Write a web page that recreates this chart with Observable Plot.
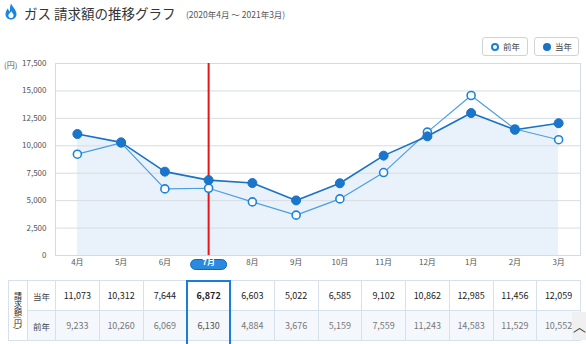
<!DOCTYPE html>
<html><head><meta charset="utf-8">
<script src="https://cdn.jsdelivr.net/npm/d3@7"></script>
<script src="https://cdn.jsdelivr.net/npm/@observablehq/plot@0.6"></script>
<style>
html,body{margin:0;padding:0;background:#fff;}
body{width:586px;height:344px;overflow:hidden;position:relative;font-family:"Noto Sans CJK JP","Noto Sans",sans-serif;color:#333;}
#title{position:absolute;left:0;top:0;height:30px;width:586px;}
#title .t{position:absolute;left:24px;top:3px;font-size:13.5px;color:#333;white-space:nowrap;}
#title .s{position:absolute;left:186px;top:8px;font-size:8.5px;color:#555;white-space:nowrap;}
#chart{position:absolute;left:0;top:30px;}
.btn{position:absolute;top:37px;height:19px;border:1px solid #cfd3d8;border-radius:3px;box-sizing:border-box;font-size:8.5px;color:#444;background:#fff;}
.btn span.c{position:absolute;left:8px;top:4.5px;width:8px;height:8px;border-radius:50%;box-sizing:border-box;}
.btn span.l{position:absolute;left:20px;top:2px;}
#yen{position:absolute;left:4px;top:59px;font-size:8px;color:#555;}
table{position:absolute;left:8px;top:280px;width:573px;border-collapse:collapse;table-layout:fixed;font-size:9px;}
td{border:1px solid #d6e1eb;height:29px;text-align:center;padding:0;}
tr.cur td{color:#222;}
tr.prev td{background:#f4f8fc;color:#777;}
td.vt{background:#fff !important;color:#555;font-size:8px;}
td.vt div{writing-mode:vertical-rl;margin:0 auto;letter-spacing:0px;}
td.rl{color:#444 !important;font-size:8.5px;}
#hl{position:absolute;left:186px;top:280px;width:45px;height:70px;border:2px solid #1a7fd4;box-sizing:border-box;}
#up{position:absolute;left:572px;top:312px;width:14px;height:28px;background:#f0f0f0;color:#333;font-size:13px;line-height:28px;text-align:right;}
</style></head>
<body>
<div id="title">
  <svg style="position:absolute;left:5px;top:3px" width="12" height="17" viewBox="0 0 12 17">
    <path d="M6 0.5 C7.5 4 11.5 7 11.5 11 C11.5 14.3 9 16.5 6 16.5 C3 16.5 0.5 14.3 0.5 11 C0.5 8.5 2 6.5 3 5.2 C3.3 7 4 8 5 8.6 C4.6 5.5 5.2 3 6 0.5 Z M6 15 C7.6 15 8.6 13.8 8.6 12.4 C8.6 10.6 7 9.6 6.3 8.2 C5.6 9.6 3.4 10.6 3.4 12.4 C3.4 13.8 4.4 15 6 15 Z" fill="#1a86e0" fill-rule="evenodd"/>
  </svg>
  <span class="t">ガス 請求額の推移グラフ</span>
  <span class="s">(2020年4月 ～ 2021年3月)</span>
</div>
<div id="chart"></div>
<div id="yen">(円)</div>
<div class="btn" style="left:482px;width:46px"><span class="c" style="border:2px solid #1a7fd4;background:#fff"></span><span class="l">前年</span></div>
<div class="btn" style="left:534px;width:45px"><span class="c" style="background:#1a72c4"></span><span class="l">当年</span></div>
<div id="tbl"></div>
<div id="hl"></div>
<div id="up">︿</div>
<script>
const months = ["4月","5月","6月","7月","8月","9月","10月","11月","12月","1月","2月","3月"];
const current = [11073,10312,7644,6872,6603,5022,6585,9102,10862,12985,11456,12059];
const previous = [9233,10260,6069,6130,4884,3676,5159,7559,11243,14583,11529,10552];
const yTicks = [0,2500,5000,7500,10000,12500,15000,17500];
const selectedMonth = "7月";
const seriesNames = ["当年","前年"];
const tableLabel = "請求額(円)";

const fmt = d3.format(",");
const cur = months.map((m,i)=>({month:m, value:current[i]}));
const prev = months.map((m,i)=>({month:m, value:previous[i]}));

const pill = {draw(ctx){ const w=13, h=5;
  ctx.moveTo(-w,-h); ctx.lineTo(w,-h); ctx.arc(w,0,h,-Math.PI/2,Math.PI/2);
  ctx.lineTo(-w,h); ctx.arc(-w,0,h,Math.PI/2,3*Math.PI/2); ctx.closePath(); }};

const chart = Plot.plot({
  width:586, height:245,
  marginTop:33, marginBottom:20, marginLeft:55, marginRight:6,
  style:{fontFamily:'"Noto Sans CJK JP","Noto Sans",sans-serif', fontSize:"8px", color:"#555", background:"transparent"},
  x:{type:"point", domain:months, padding:0.5, round:false, axis:null},
  y:{domain:[0,17500], ticks:yTicks, tickFormat:fmt, tickSize:0, tickPadding:9, label:null},
  marks:[
    Plot.areaY(cur, {x:"month", y:"value", fill:"#e9f2fa"}),
    Plot.gridY(yTicks, {stroke:"#d8dce1", strokeOpacity:1}),
    Plot.frame({stroke:"#d3dae2"}),
    Plot.ruleX([selectedMonth], {x:d=>d, stroke:"#e8141b", strokeWidth:2}),
    Plot.line(prev, {x:"month", y:"value", stroke:"#4b9de2", strokeWidth:1.2}),
    Plot.line(cur, {x:"month", y:"value", stroke:"#1a72c4", strokeWidth:1.6}),
    Plot.dot(prev, {x:"month", y:"value", r:4, fill:"white", stroke:"#1a84dc", strokeWidth:1.6}),
    Plot.dot(cur, {x:"month", y:"value", r:4.5, fill:"#1a76cc", stroke:"#1a72c4", strokeWidth:1}),
    Plot.dot([selectedMonth], {x:d=>d, frameAnchor:"bottom", dy:9, symbol:pill, fill:"#2a8ae0", stroke:"#0f68c0", strokeWidth:1}),
    Plot.text(months.filter(m=>m!==selectedMonth), {x:d=>d, frameAnchor:"bottom", dy:9, fill:"#555", fontSize:8}),
    Plot.text([selectedMonth], {x:d=>d, frameAnchor:"bottom", dy:9, fill:"white", fontSize:8, fontWeight:"bold"})
  ]
});
document.getElementById("chart").appendChild(chart);

// table
let html = '<table><colgroup><col style="width:19px"><col style="width:28px">' + months.map(()=>'<col>').join('') + '</colgroup>';
html += '<tr class="cur"><td class="vt" rowspan="2"><div>'+tableLabel+'</div></td><td class="rl">'+seriesNames[0]+'</td>' +
  current.map((v,i)=>'<td'+(months[i]===selectedMonth?' style="font-weight:bold"':'')+'>'+fmt(v)+'</td>').join('') + '</tr>';
html += '<tr class="prev"><td class="rl">'+seriesNames[1]+'</td>' +
  previous.map((v,i)=>'<td'+(months[i]===selectedMonth?' style="color:#555"':'')+'>'+fmt(v)+'</td>').join('') + '</tr></table>';
document.getElementById("tbl").innerHTML = html;
</script>
</body></html>
